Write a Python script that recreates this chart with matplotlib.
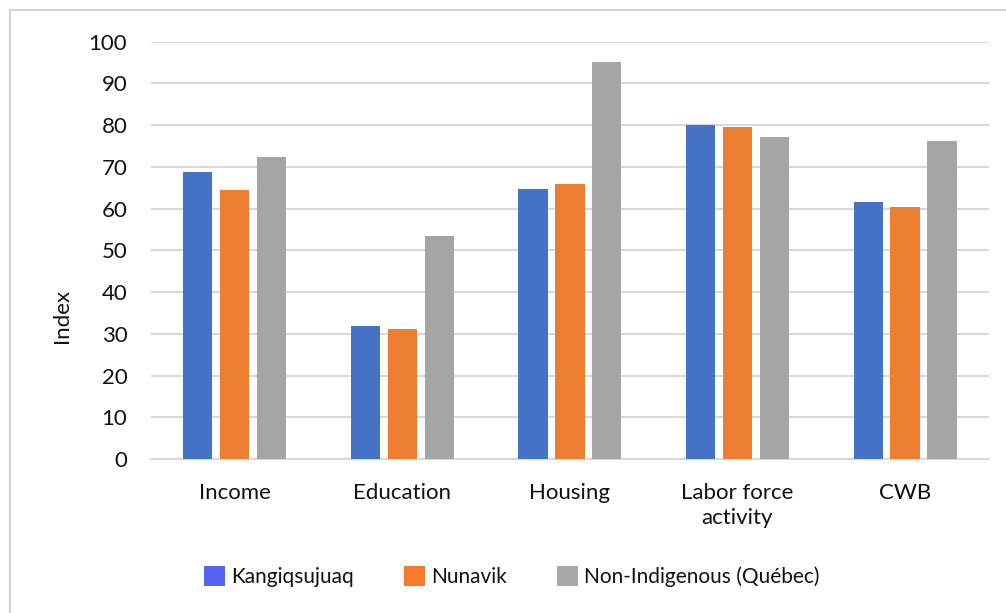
import numpy as np
import matplotlib.pyplot as plt
from matplotlib.patches import Patch
from matplotlib.lines import Line2D

plt.rcParams['font.family'] = ['Lato', 'DejaVu Sans']

categories = ["Income", "Education", "Housing", "Labor force\nactivity", "CWB"]
kangiqsujuaq = [68.7, 31.8, 64.7, 79.9, 61.6]
nunavik = [64.5, 31.1, 65.9, 79.5, 60.4]
non_indigenous = [72.3, 53.5, 95.0, 77.2, 76.2]
series_names = ["Kangiqsujuaq", "Nunavik", "Non-Indigenous (Québec)"]

bar_colors = ["#4472C4", "#ED7D31", "#A5A5A5"]
legend_colors = ["#5763EE", "#F47A30", "#A8A8A8"]
txt = "#111111"

fig = plt.figure(figsize=(10.06, 6.13), dpi=100)
ax = fig.add_axes([0.150, 0.2512, 0.833, 0.681])

x = np.arange(len(categories))
w = 0.175
step = 0.22
for i, vals in enumerate([kangiqsujuaq, nunavik, non_indigenous]):
    ax.bar(x + (i - 1) * step, vals, width=w, color=bar_colors[i], zorder=3)

ax.set_xlim(-0.5, len(categories) - 0.5)
ax.set_ylim(0, 100)
ax.set_yticks(range(0, 101, 10))
ax.set_xticks(x)
ax.set_xticklabels(categories, fontsize=16, color=txt, linespacing=1.35)
ax.tick_params(axis="y", labelsize=16, length=0, pad=17, colors=txt)
ax.tick_params(axis="x", length=0, pad=17)
ax.grid(axis="y", color="#d9d9d9", linewidth=1.5, zorder=0)
for s in ["top", "right", "left"]:
    ax.spines[s].set_visible(False)
ax.spines["bottom"].set_color("#d9d9d9")
ax.spines["bottom"].set_linewidth(1.5)

ax.set_ylabel("Index", fontsize=16, color=txt)
ax.yaxis.set_label_coords(-0.094, 0.343)

handles = [Patch(facecolor=c, edgecolor="none") for c in legend_colors]
leg = fig.legend(handles, series_names, loc="center", bbox_to_anchor=(0.509, 0.059),
                 ncol=3, frameon=False, fontsize=15, handlelength=1.0, handleheight=1.1,
                 handletextpad=0.3, columnspacing=2.4)
for t in leg.get_texts():
    t.set_color(txt)

# outer chart border
fig.add_artist(Line2D([10 / 1006, 10 / 1006], [0, 1 - 10 / 613], color="#d4d4d4", linewidth=1.5,
                      transform=fig.transFigure))
fig.add_artist(Line2D([10 / 1006, 1], [1 - 10 / 613, 1 - 10 / 613], color="#d4d4d4", linewidth=1.5,
                      transform=fig.transFigure))

fig.savefig("out.png", dpi=100)
